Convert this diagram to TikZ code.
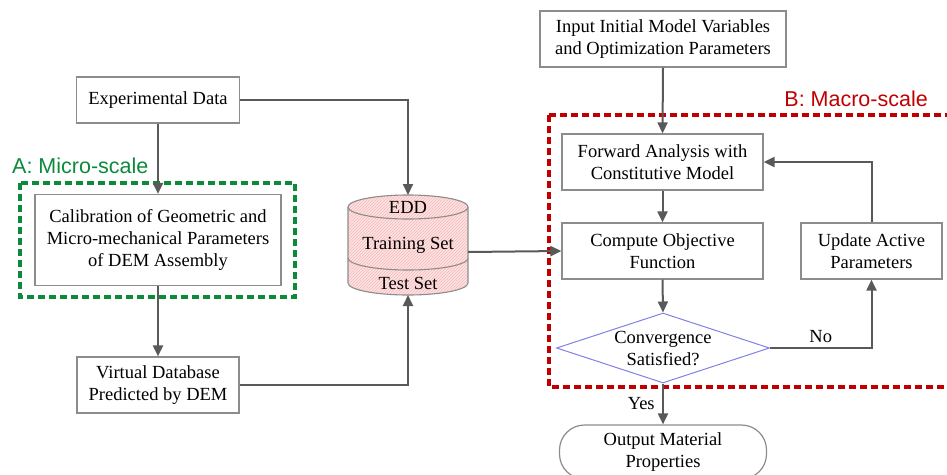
\documentclass[tikz,border=0pt]{standalone}
\usepackage{fontspec}
\setmainfont{Liberation Serif}
\newfontfamily\arialf{Liberation Sans}
\usetikzlibrary{shapes.geometric,arrows.meta,patterns}
\definecolor{linegray}{HTML}{595959}
\definecolor{boxgray}{HTML}{8C8C8C}
\definecolor{mygreen}{HTML}{0B8A3C}
\definecolor{myred}{HTML}{C00000}
\definecolor{cylpink}{HTML}{FDE3E3}
\definecolor{stripe}{HTML}{F7B9B9}
\definecolor{diablue}{HTML}{8080E6}
\begin{document}
\begin{tikzpicture}[x=1pt,y=-1pt,
  txt/.style={font=\fontsize{18.5}{22}\selectfont, align=center},
  pbox/.style={txt, draw=boxgray, line width=1.2pt, inner sep=0pt},
  conn/.style={draw=linegray, line width=2pt, -{Triangle[length=11pt,width=10pt]}},
  grpbox/.style={line width=4pt, dash pattern=on 7pt off 4pt},
  grplabel/.style={font=\arialf\fontsize{21.5}{24}\selectfont, inner sep=0pt}
]
\useasboundingbox (0,0) rectangle (947,474);

% group boxes
\draw[grpbox, mygreen] (20,183) rectangle (295,297);
\node[grplabel, text=mygreen, anchor=west] (lblA) at (12,166) {A: Micro-scale};
\draw[grpbox, myred] (549,115) -- (960,115) (549,115) -- (549,387) -- (960,387);
\node[grplabel, text=myred, anchor=east] (lblB) at (928,99) {B: Macro-scale};

% left column
\node[pbox, minimum width=163pt, minimum height=46pt] (exp) at (158,100) {Experimental Data};
\node[pbox, minimum width=246pt, minimum height=91pt] (cal) at (158,240) {Calibration of Geometric and\\Micro-mechanical Parameters\\of DEM Assembly};
\node[pbox, minimum width=162pt, minimum height=56pt] (vir) at (158,385) {Virtual Database\\Predicted by DEM};

% cylinder
\fill[cylpink] (348,207) arc[start angle=180,end angle=0,x radius=60pt,y radius=12pt]
  -- (468,283) arc[start angle=0,end angle=-180,x radius=60pt,y radius=12pt] -- cycle;
\fill[pattern=north east lines, pattern color=stripe] (348,207) arc[start angle=180,end angle=0,x radius=60pt,y radius=12pt]
  -- (468,283) arc[start angle=0,end angle=-180,x radius=60pt,y radius=12pt] -- cycle;
\draw[boxgray, line width=1.1pt] (348,207) arc[start angle=180,end angle=0,x radius=60pt,y radius=12pt]
  -- (468,283) arc[start angle=0,end angle=-180,x radius=60pt,y radius=12pt] -- cycle;
\draw[boxgray, line width=1.1pt] (348,207) arc[start angle=180,end angle=360,x radius=60pt,y radius=12pt];
\draw[boxgray, line width=1.1pt] (348,258) arc[start angle=180,end angle=360,x radius=60pt,y radius=12pt];
\node[minimum width=120pt, minimum height=100pt, inner sep=0pt] (cyl) at (408,245) {};
\node[txt] (edd) at (408,207) {EDD};
\node[txt] (train) at (408,245) {Training Set};
\node[txt] (test) at (408,283) {Test Set};
\coordinate (cylTop) at (408,195);
\coordinate (cylBot) at (408,295);
\coordinate (cylRight) at (468,252);

% right column
\node[pbox, minimum width=246pt, minimum height=56pt] (inp) at (663,39) {Input Initial Model Variables\\and Optimization Parameters};
\node[pbox, minimum width=201pt, minimum height=56pt] (fwd) at (662.5,162) {Forward Analysis with\\Constitutive Model};
\node[pbox, minimum width=201pt, minimum height=56pt] (cmp) at (662.5,251) {Compute Objective\\Function};
\node[pbox, minimum width=141pt, minimum height=56pt] (upd) at (871.5,251) {Update Active\\Parameters};
\node[diamond, draw=diablue, line width=1pt, minimum width=213pt, minimum height=70pt, inner sep=0pt] (dia) at (663,348) {};
\node[txt] (diatxt) at (dia.center) {Convergence\\Satisfied?};
\node[pbox, rounded corners=25pt, minimum width=207pt, minimum height=54pt] (out) at (663,452) {Output Material\\Properties};

% connectors
\draw[conn] (exp.south) -- (cal.north);
\draw[conn] (cal.south) -- (vir.north);
\draw[conn] (exp.east) -| (cylTop);
\draw[conn] (vir.east) -| (cylBot);
\draw[conn] (cylRight) -- (cmp.west);
\draw[conn] (inp.south) -- (fwd.north);
\draw[conn] (fwd.south) -- (cmp.north);
\draw[conn] (cmp.south) -- (dia.north);
\draw[conn] (dia.south) -- node[txt, left=4pt, pos=0.5] (yes) {Yes} (out.north);
\draw[conn] (dia.east) -| node[txt, above=1pt, pos=0.25] (no) {No} (upd.south);
\draw[conn] (upd.north) |- (fwd.east);
\end{tikzpicture}
\end{document}
